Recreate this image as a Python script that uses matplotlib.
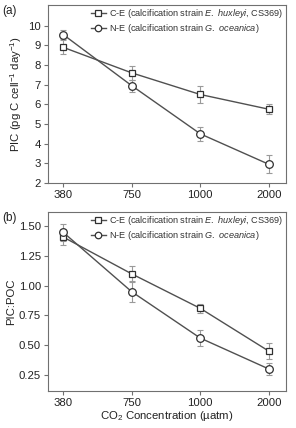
import matplotlib
matplotlib.use("Agg")
import matplotlib.pyplot as plt

plt.rcParams["font.family"] = ["Liberation Sans", "DejaVu Sans"]
plt.rcParams["mathtext.fontset"] = "custom"
plt.rcParams["mathtext.rm"] = "Liberation Sans"
plt.rcParams["mathtext.it"] = "Liberation Sans:italic"

# ── Data ──────────────────────────────────────────────────────────────────────
co2_labels = ["380", "750", "1000", "2000"]

pic_ce = [8.9, 7.6, 6.5, 5.75]
pic_ce_err = [0.35, 0.35, 0.45, 0.25]
pic_ne = [9.55, 6.95, 4.5, 2.95]
pic_ne_err = [0.25, 0.3, 0.35, 0.45]

ratio_ce = [1.41, 1.10, 0.81, 0.45]
ratio_ce_err = [0.07, 0.07, 0.04, 0.07]
ratio_ne = [1.45, 0.95, 0.56, 0.30]
ratio_ne_err = [0.07, 0.09, 0.07, 0.05]

label_ce = "C-E (calcification strain $\\mathit{E.\\ huxleyi}$, CS369)"
label_ne = "N-E (calcification strain $\\mathit{G.\\ oceanica}$)"

line_col = "#505050"
err_col = "#9a9a9a"
spine_col = "#707070"

fig = plt.figure(figsize=(2.96, 4.28), dpi=100)
ax_a = fig.add_axes([48 / 296, 1 - 183 / 428, 238 / 296, 178 / 428])
ax_b = fig.add_axes([48 / 296, 1 - 391 / 428, 238 / 296, 179 / 428])

x = list(range(len(co2_labels)))


def draw(ax, ce, ce_err, ne, ne_err):
    for vals, errs, mk, lab in [(ce, ce_err, "s", label_ce), (ne, ne_err, "o", label_ne)]:
        ax.errorbar(x, vals, yerr=errs, fmt="none", ecolor=err_col, elinewidth=0.8,
                    capsize=2, capthick=0.8, zorder=1)
        ax.plot(x, vals, color=line_col, lw=1.0, marker=mk, ms=5 if mk == "s" else 5.5,
                mfc="white", mec="#303030", mew=0.9, label=lab, zorder=3)
    ax.set_xlim(-0.22, 3.25)
    ax.set_xticks(x)
    ax.set_xticklabels(co2_labels)
    ax.tick_params(direction="out", length=3, width=0.8, color=spine_col,
                   labelsize=8.2, labelcolor="#222222", pad=2)
    for s in ax.spines.values():
        s.set_color(spine_col)
        s.set_linewidth(0.8)
    leg = ax.legend(loc="upper right", frameon=False, fontsize=6.6, handlelength=1.6,
                    handletextpad=0.4, borderaxespad=0.05, labelspacing=0.2,
                    borderpad=0.2, markerscale=0.85)
    for t in leg.get_texts():
        t.set_color("#333333")


draw(ax_a, pic_ce, pic_ce_err, pic_ne, pic_ne_err)
ax_a.set_ylim(2, 11.05)
ax_a.set_yticks(range(2, 11))
ax_a.set_ylabel("PIC (pg C cell$^{-1}$ day$^{-1}$)", fontsize=8.2, color="#222222", labelpad=3)

draw(ax_b, ratio_ce, ratio_ce_err, ratio_ne, ratio_ne_err)
ax_b.set_ylim(0.115, 1.62)
ax_b.set_yticks([0.25, 0.5, 0.75, 1.0, 1.25, 1.5])
ax_b.set_yticklabels(["0.25", "0.50", "0.75", "1.00", "1.25", "1.50"])
ax_b.set_ylabel("PIC:POC", fontsize=8.2, color="#222222", labelpad=2)
ax_b.set_xlabel("CO$_2$ Concentration (µatm)", fontsize=8.2, color="#222222", labelpad=1)

fig.text(2 / 296, 1 - 14 / 428, "(a)", fontsize=8.5, color="#222222")
fig.text(2 / 296, 1 - 221 / 428, "(b)", fontsize=8.5, color="#222222")

fig.savefig("out.png", dpi=100)
